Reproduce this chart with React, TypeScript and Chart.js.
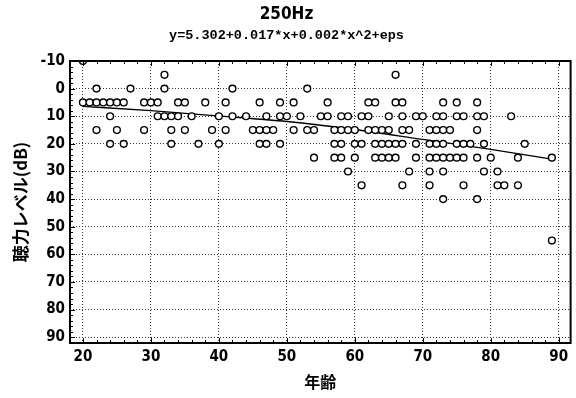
import React, { useEffect, useRef } from 'react';
import { Chart, registerables } from 'chart.js';

Chart.register(...registerables);

const titleText = '250Hz';
const subtitleText = 'y=5.302+0.017*x+0.002*x^2+eps';
const xAxisTitle = '年齢';
const yAxisTitle = '聴力レベル(dB)';

// Ages observed at each hearing level (dB)
const agesAtM10 = [20];
const agesAtM5 = [32, 66];
const agesAt0 = [22, 27, 32, 42, 53];
const agesAt5 = [20, 21, 22, 23, 24, 25, 26, 29, 30, 31, 34, 35, 38, 41, 46, 49, 51, 56, 62, 63, 66, 67, 73, 75, 78];
const agesAt10 = [24, 31, 32, 33, 34, 36, 40, 42, 44, 47, 49, 50, 52, 55, 56, 58, 59, 61, 62, 65, 67, 69, 70, 72, 73, 75, 76, 78, 79, 83];
const agesAt15 = [22, 25, 29, 33, 35, 39, 41, 45, 46, 47, 48, 51, 53, 54, 57, 58, 59, 60, 62, 63, 64, 65, 67, 68, 71, 72, 73, 74, 78];
const agesAt20 = [24, 26, 33, 37, 40, 46, 47, 49, 57, 58, 60, 61, 63, 64, 65, 66, 67, 69, 71, 72, 73, 75, 76, 77, 79, 85];
const agesAt25 = [54, 57, 58, 60, 63, 64, 65, 66, 69, 71, 72, 73, 74, 75, 76, 78, 80, 84, 89];
const agesAt30 = [59, 68, 71, 73, 79, 81];
const agesAt35 = [61, 67, 71, 76, 81, 82, 84];
const agesAt40 = [73, 78];
const agesAt55 = [89];

const levelRows: [number, number[]][] = [
  [-10, agesAtM10], [-5, agesAtM5], [0, agesAt0], [5, agesAt5], [10, agesAt10],
  [15, agesAt15], [20, agesAt20], [25, agesAt25], [30, agesAt30], [35, agesAt35],
  [40, agesAt40], [55, agesAt55],
];

// Fitted curve
const fitAges = [20, 30, 40, 50, 60, 70, 80, 89];
const fitLevels = [6.4, 8.0, 9.9, 11.9, 14.8, 18.4, 22.0, 25.5];

const xTickLabels = [20, 30, 40, 50, 60, 70, 80, 90];
const yTickLabels = [-10, 0, 10, 20, 30, 40, 50, 60, 70, 80, 90];

const NARROW = "'Liberation Sans Narrow', 'DejaVu Sans Condensed', 'Liberation Sans', sans-serif";
const MONO = "'Liberation Mono', 'DejaVu Sans Mono', monospace";
const CJK = "'Noto Sans CJK JP', sans-serif";

const frameTicks = {
  id: 'frameTicks',
  afterDraw(chart: any) {
    const { ctx, chartArea, scales } = chart;
    const { left, right, top, bottom } = chartArea;
    const xs = scales.x;
    const ys = scales.y;
    ctx.save();
    ctx.strokeStyle = '#000';
    ctx.lineWidth = 1;
    ctx.beginPath();
    for (let v = Math.ceil(ys.min / 2) * 2; v <= ys.max; v += 2) {
      const py = Math.round(ys.getPixelForValue(v)) + 0.5;
      const len = v % 10 === 0 ? 5 : 3;
      ctx.moveTo(left, py);
      ctx.lineTo(left + len, py);
    }
    for (let v = Math.ceil(xs.min / 2) * 2; v <= xs.max; v += 2) {
      const px = Math.round(xs.getPixelForValue(v)) + 0.5;
      const len = v % 10 === 0 ? 5 : 3;
      ctx.moveTo(px, bottom);
      ctx.lineTo(px, bottom - len);
      ctx.moveTo(px, top);
      ctx.lineTo(px, top + len);
    }
    ctx.stroke();
    ctx.lineWidth = 2;
    ctx.strokeRect(left, top, right - left, bottom - top);
    ctx.restore();
  },
};

export default function App() {
  const canvasRef = useRef<HTMLCanvasElement | null>(null);

  useEffect(() => {
    const canvas = canvasRef.current;
    if (!canvas) return;
    const points: { x: number; y: number }[] = [];
    levelRows.forEach(([lvl, ages]) => ages.forEach((a) => points.push({ x: a, y: lvl })));
    const fit = fitAges.map((a, i) => ({ x: a, y: fitLevels[i] }));

    const chart = new Chart(canvas, {
      type: 'scatter',
      data: {
        datasets: [
          {
            type: 'line',
            data: fit,
            borderColor: '#000',
            borderWidth: 1.3,
            pointRadius: 0,
            fill: false,
            cubicInterpolationMode: 'monotone',
            order: 2,
          } as any,
          {
            data: points,
            pointRadius: 3.4,
            pointBorderWidth: 1.4,
            borderColor: '#000',
            backgroundColor: '#fff',
            order: 1,
          },
        ],
      },
      options: {
        responsive: false,
        animation: false,
        events: [],
        layout: { padding: { left: 0, right: 3, top: 0, bottom: 0 } },
        plugins: {
          legend: { display: false },
          tooltip: { enabled: false },
          title: {
            display: true,
            text: titleText,
            color: '#000',
            font: { family: NARROW, size: 17, weight: 'bold', lineHeight: 1.2 },
            padding: { top: 4, bottom: 0 },
          },
          subtitle: {
            display: true,
            text: subtitleText,
            color: '#000',
            font: { family: MONO, size: 13.5, weight: 'bold', lineHeight: 1.2 },
            padding: { top: 3, bottom: 17.4 },
          },
        },
        scales: {
          x: {
            type: 'linear',
            min: 18.1,
            max: 91.75,
            afterBuildTicks: (s: any) => {
              s.ticks = xTickLabels.map((v) => ({ value: v }));
            },
            afterFit: (s: any) => {
              s.height = 55;
            },
            ticks: { color: '#000', padding: 5, font: { family: NARROW, size: 15, weight: 'bold' } },
            grid: { color: '#333', lineWidth: 1, drawTicks: false },
            border: { display: false, dash: [1, 2] },
            title: {
              display: true,
              text: xAxisTitle,
              color: '#000',
              font: { family: CJK, size: 16, weight: 'bold', lineHeight: 1.2 },
              padding: { top: 0, bottom: 6 },
            },
          },
          y: {
            type: 'linear',
            reverse: true,
            min: -10,
            max: 92.1,
            afterBuildTicks: (s: any) => {
              s.ticks = yTickLabels.map((v) => ({ value: v }));
            },
            afterFit: (s: any) => {
              s.width = 70;
            },
            ticks: { color: '#000', padding: 5, font: { family: NARROW, size: 15, weight: 'bold' } },
            grid: { color: '#333', lineWidth: 1, drawTicks: false },
            border: { display: false, dash: [1, 2] },
            title: {
              display: true,
              text: yAxisTitle,
              color: '#000',
              font: { family: CJK, size: 17, weight: 'bold', lineHeight: 1.2 },
              padding: { top: 10, bottom: 0 },
            },
          },
        },
      },
      plugins: [frameTicks],
    });
    return () => chart.destroy();
  }, []);

  return (
    <div style={{ position: 'fixed', left: 0, top: 0, width: 576, height: 398, background: '#fff' }}>
      <canvas ref={canvasRef} width={576} height={398} style={{ width: 576, height: 398 }} />
    </div>
  );
}
